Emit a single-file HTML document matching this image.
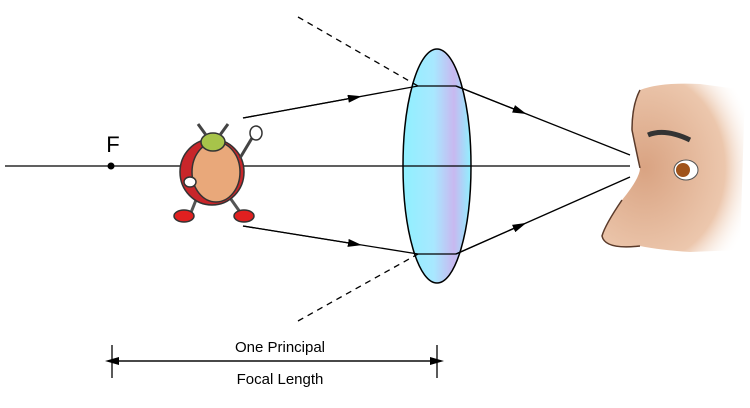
<!DOCTYPE html>
<html><head><style>body{margin:0;background:#fff}svg{display:block}</style></head><body>
<svg width="750" height="408" viewBox="0 0 750 408" xmlns="http://www.w3.org/2000/svg">
<defs>
<linearGradient id="lg" x1="0" x2="1" y1="0" y2="0">
<stop offset="0" stop-color="#8ff0ff"/><stop offset="0.45" stop-color="#a8e8ff"/><stop offset="0.75" stop-color="#c8b8f0"/><stop offset="1" stop-color="#90f0ff"/></linearGradient>
<marker id="ar" markerWidth="14" markerHeight="8" refX="7" refY="4" orient="auto" markerUnits="userSpaceOnUse"><path d="M0,0 L14,4 L0,8 z" fill="#000"/></marker>
<radialGradient id="skin" cx="0.3" cy="0.5" r="0.8"><stop offset="0" stop-color="#d9a382"/><stop offset="0.7" stop-color="#ecc7ad"/><stop offset="1" stop-color="#fff" stop-opacity="0"/></radialGradient>
</defs>
<ellipse cx="437" cy="166" rx="34" ry="117" fill="url(#lg)" stroke="#000" stroke-width="1.5"/>
<g stroke="#000" stroke-width="1.3" fill="none">
<line x1="5" y1="166" x2="630" y2="166"/>
<line x1="243" y1="118" x2="418" y2="86"/>
<line x1="243" y1="118" x2="355" y2="97.5" marker-end="url(#ar)"/>
<line x1="456" y1="86" x2="630" y2="155"/>
<line x1="456" y1="86" x2="520" y2="111.4" marker-end="url(#ar)"/>
<line x1="243" y1="226" x2="418" y2="254"/>
<line x1="243" y1="226" x2="355" y2="244" marker-end="url(#ar)"/>
<line x1="456" y1="254" x2="630" y2="177"/>
<line x1="456" y1="254" x2="520" y2="225.7" marker-end="url(#ar)"/>
<line x1="418" y1="86" x2="456" y2="86"/>
<line x1="418" y1="254" x2="456" y2="254"/>
<line x1="298" y1="17" x2="418" y2="86" stroke-dasharray="6,5"/>
<line x1="298" y1="321" x2="418" y2="254" stroke-dasharray="6,5"/>
<line x1="112" y1="345" x2="112" y2="378"/>
<line x1="437" y1="345" x2="437" y2="378"/>
<line x1="112" y1="361" x2="437" y2="361" marker-end="url(#ar)"/>
<line x1="437" y1="361" x2="112" y2="361" marker-end="url(#ar)"/>
</g>
<circle cx="111" cy="166" r="3.5" fill="#000"/>
<text x="113" y="152" font-family="Liberation Sans, sans-serif" font-size="22" text-anchor="middle">F</text>
<text x="280" y="352" font-family="Liberation Sans, sans-serif" font-size="15" text-anchor="middle">One Principal</text>
<text x="280" y="384" font-family="Liberation Sans, sans-serif" font-size="15" text-anchor="middle">Focal Length</text>
<g stroke="#333" stroke-width="1.5">
<path d="M198,195 L190,215" stroke="#555" stroke-width="3"/>
<path d="M228,195 L240,212" stroke="#555" stroke-width="3"/>
<ellipse cx="212" cy="172" rx="32" ry="33" fill="#c8262a"/>
<ellipse cx="216" cy="172" rx="24" ry="30" fill="#e9a87a"/>
<ellipse cx="213" cy="142" rx="12" ry="9" fill="#a7c44a"/>
<path d="M206,135 L198,124 M220,135 L228,124" stroke="#444" stroke-width="3"/>
<ellipse cx="184" cy="216" rx="10" ry="6" fill="#e02020"/>
<ellipse cx="244" cy="216" rx="10" ry="6" fill="#e02020"/>
<ellipse cx="190" cy="182" rx="6" ry="5" fill="#fff"/>
<path d="M240,158 L252,138" stroke="#444" stroke-width="3"/>
<ellipse cx="256" cy="133" rx="6" ry="7" fill="#fff"/>
</g>
<path d="M640,90 Q660,82 700,84 L745,90 L740,250 L690,252 Q660,250 640,246 Q605,250 602,236 Q605,225 622,200 Q640,178 640,168 Q636,150 632,130 Q632,105 640,90 Z" fill="url(#skin)"/>
<path d="M640,168 Q636,150 632,130 Q632,105 640,90 M622,200 Q605,225 602,236 Q605,250 640,246" stroke="#5a3a2a" stroke-width="1.5" fill="none"/>
<path d="M648,135 Q665,128 690,140" stroke="#333" stroke-width="5" fill="none"/>
<ellipse cx="686" cy="170" rx="12" ry="10" fill="#fff" stroke="#555"/>
<circle cx="683" cy="170" r="7" fill="#a0541c"/>
</svg>
</body></html>
